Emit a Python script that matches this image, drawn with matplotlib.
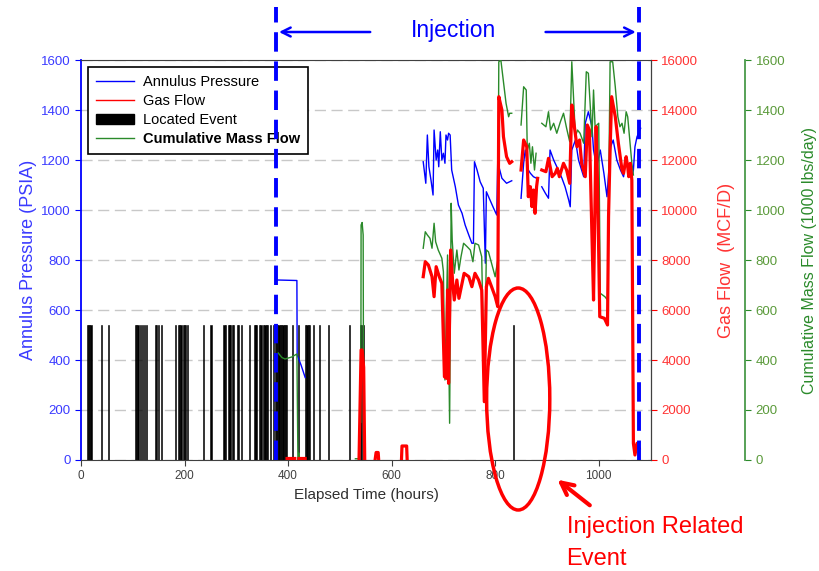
import numpy as np
import matplotlib
matplotlib.use('Agg')
from matplotlib import pyplot as plt
from matplotlib.lines import Line2D
from matplotlib.patches import Patch, Ellipse

nan = np.nan

# located events (elapsed hours), drawn as black bars
event_times = [12, 14.5, 17, 19.5, 40, 53.5, 105, 107.5, 110, 114.5, 118.5, 122, 126,
               144, 146.5, 149, 156, 183, 188, 190.5, 193, 197.5, 200, 202.5, 205,
               236, 251, 276, 278.5, 286, 288, 292, 294.5, 302, 304.5, 310, 325,
               336, 338, 345, 347.5, 353, 355.5, 358, 360.5, 366.5,
               372.5, 375, 377.5, 380, 382.5, 385, 387.5, 390, 392.5, 395, 396.5,
               409, 420, 434, 436.5, 439, 441.5, 449, 460, 478, 518,
               540, 542.5, 545, 835]
event_height = 540

# annulus pressure (PSIA)
blue_t = [380, 417, 417.5, 425, 433, nan,
          661, 666, 669, 672, 676, 680, 682, 686, 689, 691, 694, 697, 700, 703, 705, 708, 710, 713,
          716, 723, 729, 736, 742, 749, 755, 758, 760, 765, 771, 777, 781, 783, 790, 797, 803, 805,
          808, 813, 822, 832, nan,
          850, 855, 858, 864, 868, 874, 880, nan,
          890, 897, 903, 906, 913, 922, 929, 935, 942, 945, 948, 955, 961, 971, 974, 980, 987, 990,
          996, 1003, 1010, 1016, 1020, 1023, 1028, 1035, 1042, 1048, 1053, 1058, 1064, 1067, 1070,
          1074, 1081]
blue_p = [720, 718, 420, 380, 330, nan,
          1193, 1107, 1300, 1173, 1120, 1060, 1320, 1200, 1240, 1173, 1313, 1200, 1227, 1187, 1300, 1280, 1307, 1300,
          1160, 1093, 1020, 987, 940, 900, 867, 867, 1193, 1160, 1113, 1087, 787, 1073, 1040, 1007, 980, 1200,
          1167, 1127, 1107, 1117, nan,
          1047, 1187, 1240, 1160, 1147, 1133, 1127, nan,
          1093, 1067, 1047, 1240, 1200, 1160, 1127, 1093, 1040, 1013, 1240, 1280, 1200, 1133, 1347, 1393, 1333, 1240,
          1173, 1240, 1147, 1053, 1173, 1253, 1280, 1200, 1160, 1133, 1213, 1160, 1133, 1160, 1253,
          1293, 1327]

# gas flow (MCF/D)
red_t = [398, 413, nan, 421, 433, nan, 537, 541, 543, 546, 548, nan, 568, 570, 574, 575, nan,
         619, 620, 629, 630, nan,
         661, 665, 671, 678, 682, 686, 692, 697, 702, 706, 708, 710, 714, 718, 721, 726, 730, 736, 740,
         749, 755, 761, 768, 774, 779, 783, 787, 793, 800, 805, 807, 813, 816, 822, 828, 832, nan,
         850, 855, 861, 864, 868, 871, 874, 877, 880, 882, nan,
         890, 898, 903, 910, 916, 920, 924, 932, 938, 944, 948, 953, 958, 963, 967, 974, 978, 982, 987,
         990, 995, 998, 1002, 1011, 1017, 1019, 1022, 1025, 1032, 1038, 1045, 1048, 1053, 1056, 1058,
         1061, 1064, 1067, 1070, 1074, 1078]
red_g = [60, 60, nan, 60, 60, nan, 0, 4400, 4400, 3700, 0, nan, 0, 300, 300, 0, nan,
         0, 560, 560, 0, nan,
         7333, 7933, 7800, 7333, 6533, 7733, 7333, 7067, 3333, 3267, 6800, 3067, 8400, 7067, 6400, 7200, 6467, 7067, 7467,
         7333, 6933, 7467, 7200, 6800, 2333, 6933, 7267, 6933, 6533, 6133, 14533, 14000, 12933, 12133, 11867, 11933, nan,
         11600, 12800, 12533, 10533, 10933, 10133, 10800, 9867, 10933, 11267, nan,
         11600, 11533, 12067, 11333, 11467, 11667, 11333, 11867, 11600, 11067, 14200, 13333, 12533, 12800, 11867, 11333, 13400, 13200, 8933,
         6400, 13333, 10800, 5733, 5667, 5400, 9733, 12400, 14533, 13733, 12667, 11600, 11467, 12133, 11733, 11333,
         11867, 11200, 667, 200, 667, 467]

# cumulative mass flow (1000 lbs/day)
green_t = [381, 388, 394, 407, 417, 419, 420, 421, 422, nan,
           530, 538, 539, 540.5, 541, 543, 545, 546, 548, nan,
           661, 665, 669, 674, 678, 682, 685, 690, 697, 700, 703, 708, 712, 715, 717, 721, 726, 730, 734,
           739, 746, 752, 757, 761, 768, 774, 779, 783, 787, 793, 800, 805, 807, 811, 816, 821, 826, 828, 832, nan,
           850, 855, 860, 862, 866, 869, 872, 876, 879, nan,
           890, 898, 903, 907, 913, 919, 926, 932, 938, 944, 948, 951, 955, 959, 964, 971, 976, 980, 983,
           987, 990, 993, 1000, 1003, 1012, 1017, 1022, 1027, 1032, 1037, 1041, 1045, 1049, 1053, 1056,
           1060, 1064, 1067]
green_m = [428, 410, 404, 412, 424, 0, 0, 28, 0, nan,
           5, 5, 150, 150, 940, 950, 900, 5, 5, nan,
           847, 913, 900, 887, 847, 947, 873, 840, 807, 753, 320, 820, 147, 1027, 880, 747, 840, 760, 813,
           867, 853, 840, 793, 867, 860, 813, 253, 840, 833, 787, 733, 800, 1593, 1600, 1513, 1427, 1373, 1387, 1387, nan,
           1340, 1493, 1480, 1240, 1267, 1187, 1253, 1160, 1227, nan,
           1347, 1333, 1393, 1320, 1347, 1307, 1353, 1387, 1327, 1273, 1593, 1467, 1293, 1320, 1307, 1267, 1553, 1547, 1440,
           1293, 1480, 1333, 1347, 667, 653, 640, 1593, 1593, 1493, 1373, 1333, 1347, 1307, 1393, 1373,
           1280, 1187, 1140]

injection_start = 377
injection_end = 1077

plt.rcParams['font.family'] = ['Liberation Sans', 'DejaVu Sans']

BLUE = '#0000ff'
RED = '#ff0000'
GREEN = '#2a8a2a'

fig = plt.figure(figsize=(8.2, 5.71), dpi=100)
ax = fig.add_axes([0.0988, 0.1944, 0.6951, 0.7005])
ax2 = ax.twinx()
ax3 = ax.twinx()
ax3.set_zorder(1)
ax2.set_zorder(2)
ax2.patch.set_visible(False)
ax3.patch.set_visible(False)

ax.bar(event_times, event_height, width=2.4, color='black', edgecolor='black',
       linewidth=0.4, zorder=2)
ax.plot(blue_t, blue_p, color=BLUE, lw=1, zorder=3)
ax3.plot(green_t, green_m, color=GREEN, lw=1)
ax2.plot(red_t, red_g, color=RED, lw=2.3)

ax.set_xlim(0, 1101)
ax.set_ylim(0, 1600)
ax2.set_ylim(0, 16000)
ax3.set_ylim(0, 1600)
ax.set_xticks([0, 200, 400, 600, 800, 1000])
ax.set_yticks(range(0, 1601, 200))
ax2.set_yticks(range(0, 16001, 2000))
ax3.set_yticks(range(0, 1601, 200))

ax.yaxis.grid(True, color='#c8c8c8', lw=1, linestyle=(0, (8, 4)))
ax.set_axisbelow(True)

for a in (ax, ax2, ax3):
    a.tick_params(direction='out', length=4)
ax.tick_params(axis='x', labelsize=8.5, colors='#404040')
ax.tick_params(axis='y', labelsize=9.5, colors=BLUE, labelcolor='#3a3aff')
ax2.tick_params(axis='y', labelsize=9.5, colors=RED, labelcolor='#ff3333')
ax3.tick_params(axis='y', labelsize=9.5, colors=GREEN, labelcolor='#5a9a3a')

ax.spines['left'].set_color(BLUE)
ax.spines['left'].set_linewidth(1.3)
for s in ('top', 'bottom'):
    ax.spines[s].set_color('#404040')
ax2.spines['right'].set_color('#404040')
ax3.spines['right'].set_position(('axes', 1.165))
ax3.spines['right'].set_color('#4a9a4a')
ax3.spines['right'].set_linewidth(1.3)
for a in (ax2, ax3):
    a.spines['left'].set_visible(False)
    a.spines['top'].set_visible(False)
    a.spines['bottom'].set_visible(False)

ax.set_xlabel('Elapsed Time (hours)', fontsize=11, color='#303030', labelpad=4)
ax.set_ylabel('Annulus Pressure (PSIA)', fontsize=13, color='#3a3aff', labelpad=3)
ax2.set_ylabel('Gas Flow  (MCF/D)', fontsize=13, color='#ff3333', labelpad=14)
ax3.set_ylabel('Cumulative Mass Flow (1000 lbs/day)', fontsize=11.5, color=GREEN, labelpad=12)

handles = [Line2D([], [], color=BLUE, lw=1),
           Line2D([], [], color=RED, lw=1),
           Patch(facecolor='black', edgecolor='black'),
           Line2D([], [], color=GREEN, lw=1)]
labels = ['Annulus Pressure', 'Gas Flow', 'Located Event', 'Cumulative Mass Flow']
leg = ax2.legend(handles, labels, loc='upper left', bbox_to_anchor=(0.012, 0.983),
                 borderaxespad=0, fontsize=10.5, fancybox=False, edgecolor='black',
                 framealpha=1, handlelength=2.6, handletextpad=0.6, labelspacing=0.35,
                 borderpad=0.55)
leg.get_frame().set_linewidth(1.2)
leg.get_texts()[3].set_fontweight('bold')
leg.set_zorder(5)

# injection period markers
for t in (injection_start, injection_end):
    ax2.axvline(t, ymin=0, ymax=1.1325, color=BLUE, lw=2.8,
                linestyle=(0, (5, 2.5)), clip_on=False, zorder=6)
arrow_y = 1.07
ax2.annotate('', xy=(injection_start, arrow_y), xytext=(564, arrow_y),
             xycoords=('data', 'axes fraction'), textcoords=('data', 'axes fraction'),
             arrowprops=dict(arrowstyle='->', color=BLUE, lw=1.8, mutation_scale=16),
             annotation_clip=False)
ax2.annotate('', xy=(injection_end, arrow_y), xytext=(892, arrow_y),
             xycoords=('data', 'axes fraction'), textcoords=('data', 'axes fraction'),
             arrowprops=dict(arrowstyle='->', color=BLUE, lw=1.8, mutation_scale=16),
             annotation_clip=False)
ax2.text(719, 1.0575, 'Injection', transform=ax2.get_xaxis_transform(),
         ha='center', va='baseline', fontsize=16.5, color=BLUE)

# injection related event callout
ax2.add_patch(Ellipse((844.5, 2440), width=122, height=8880, fill=False,
                      edgecolor=RED, lw=2.5, clip_on=False, zorder=6))
ax2.annotate('', xy=(916, -720), xytext=(987, -1880),
             arrowprops=dict(arrowstyle='->', color=RED, lw=3, mutation_scale=22),
             annotation_clip=False)
fig.text(0.691, 0.066, 'Injection Related', fontsize=17, color=RED, va='baseline')
fig.text(0.691, 0.011, 'Event', fontsize=17, color=RED, va='baseline')

fig.savefig('out.png', dpi=100)
